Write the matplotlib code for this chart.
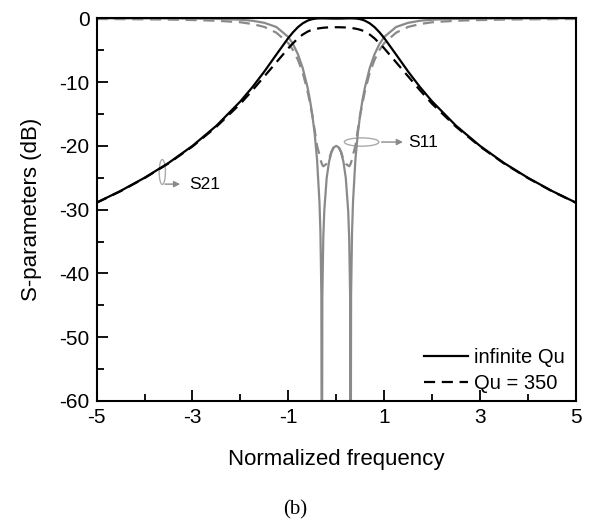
import matplotlib
matplotlib.use("Agg")
import matplotlib.pyplot as plt
from matplotlib.patches import Ellipse
from matplotlib.ticker import MultipleLocator

plt.rcParams['font.family'] = ['Liberation Sans', 'DejaVu Sans']
plt.rcParams['axes.unicode_minus'] = False

# frecuencia normalizada
freq = [-5, -4.5, -4, -3.5, -3, -2.5, -2, -1.75, -1.5, -1.25, -1, -0.9, -0.8, -0.7,
        -0.6, -0.55, -0.5, -0.45, -0.4, -0.35, -0.33, -0.31, -0.3, -0.29, -0.27,
        -0.25, -0.2, -0.15, -0.1, -0.05, 0, 0.05, 0.1, 0.15, 0.2, 0.25, 0.27, 0.29,
        0.3, 0.31, 0.33, 0.35, 0.4, 0.45, 0.5, 0.55, 0.6, 0.7, 0.8, 0.9, 1, 1.25,
        1.5, 1.75, 2, 2.5, 3, 3.5, 4, 4.5, 5]

# Qu infinito
s21_inf = [-28.89, -27.06, -25.0, -22.68, -20.0, -16.84, -13.02, -10.8, -8.34, -5.69,
           -3.08, -2.17, -1.39, -0.79, -0.378, -0.238, -0.136, -0.068, -0.026, -0.006,
           -0.002, 0.0, 0.0, 0.0, -0.002, -0.004, -0.014, -0.025, -0.035, -0.041, -0.044,
           -0.041, -0.035, -0.025, -0.014, -0.004, -0.002, 0.0, 0.0, 0.0, -0.002, -0.006,
           -0.026, -0.068, -0.136, -0.238, -0.378, -0.79, -1.39, -2.17, -3.08, -5.69,
           -8.34, -10.8, -13.02, -16.84, -20.0, -22.68, -25.0, -27.06, -28.89]
s11_inf = [-0.006, -0.009, -0.014, -0.023, -0.044, -0.09, -0.22, -0.38, -0.71, -1.36,
           -2.93, -4.06, -5.63, -7.79, -10.79, -12.73, -15.09, -18.09, -22.17, -28.81,
           -33.52, -43.35, -90.0, -43.6, -34.38, -30.25, -25.07, -22.48, -21.0, -20.24,
           -20.0, -20.24, -21.0, -22.48, -25.07, -30.25, -34.38, -43.6, -90.0, -43.35,
           -33.52, -28.81, -22.17, -18.09, -15.09, -12.73, -10.79, -7.79, -5.63, -4.06,
           -2.93, -1.36, -0.71, -0.38, -0.22, -0.09, -0.044, -0.023, -0.014, -0.009, -0.006]

# Qu = 350
s21_q = [-28.92, -27.1, -25.05, -22.75, -20.1, -17.0, -13.4, -11.3, -9.1, -6.9,
         -4.7, -3.9, -3.15, -2.55, -2.1, -1.93, -1.8, -1.7, -1.62, -1.56, -1.54, -1.52,
         -1.51, -1.5, -1.48, -1.47, -1.44, -1.42, -1.41, -1.4, -1.4, -1.4, -1.41, -1.42,
         -1.44, -1.47, -1.48, -1.5, -1.51, -1.52, -1.54, -1.56, -1.62, -1.7, -1.8, -1.93,
         -2.1, -2.55, -3.15, -3.9, -4.7, -6.9, -9.1, -11.3, -13.4, -17.0, -20.1, -22.75,
         -25.05, -27.1, -28.92]
s11_q = [-0.11, -0.13, -0.16, -0.2, -0.27, -0.38, -0.62, -0.9, -1.35, -2.25,
         -3.9, -5.0, -6.5, -8.5, -11.4, -13.2, -15.2, -17.5, -20.0, -21.4, -22.1, -22.6,
         -22.8, -23.0, -23.2, -23.1, -22.8, -22.1, -20.9, -20.15, -19.9, -20.15, -20.9,
         -22.1, -22.8, -23.1, -23.2, -23.0, -22.8, -22.6, -22.1, -21.4, -20.0, -17.5,
         -15.2, -13.2, -11.4, -8.5, -6.5, -5.0, -3.9, -2.25, -1.35, -0.9, -0.62, -0.38,
         -0.27, -0.2, -0.16, -0.13, -0.11]

gris = '#8a8a8a'

fig = plt.figure(figsize=(5.93, 5.23), dpi=100)
ax = fig.add_axes([0.163, 0.2333, 0.808, 0.7317])

ax.plot(freq, s11_inf, color=gris, lw=1.6)
ax.plot(freq, s11_q, color=gris, lw=1.6, dashes=(5, 3))
ax.plot(freq, s21_inf, color='black', lw=1.6, label='infinite Qu')
ax.plot(freq, s21_q, color='black', lw=1.6, dashes=(5, 3), label='Qu = 350')

# anotaciones S21 / S11
ax.add_patch(Ellipse((-3.63, -24.1), 0.13, 3.9, fill=False, ec='#aaaaaa', lw=1))
ax.annotate('', xy=(-3.2, -26.0), xytext=(-3.63, -26.0),
            arrowprops=dict(arrowstyle='-|>', color=gris, lw=1, mutation_scale=9))
ax.text(-3.07, -26.0, 'S21', fontsize=12.5, va='center', ha='left')

ax.add_patch(Ellipse((0.53, -19.4), 0.72, 1.3, fill=False, ec='#aaaaaa', lw=1))
ax.annotate('', xy=(1.45, -19.4), xytext=(0.89, -19.4),
            arrowprops=dict(arrowstyle='-|>', color=gris, lw=1, mutation_scale=9))
ax.text(1.5, -19.4, 'S11', fontsize=12.5, va='center', ha='left')

ax.set_xlim(-5, 5)
ax.set_ylim(-60, 0)
ax.xaxis.set_major_locator(MultipleLocator(2))
ax.xaxis.set_minor_locator(MultipleLocator(1))
ax.yaxis.set_major_locator(MultipleLocator(10))
ax.yaxis.set_minor_locator(MultipleLocator(5))
ax.set_xticks([-5, -3, -1, 1, 3, 5])
ax.tick_params(which='both', direction='in', top=False, right=False, width=1.3)
ax.tick_params(which='major', length=8, labelsize=15, pad=5)
ax.tick_params(which='minor', length=5)
for s in ax.spines.values():
    s.set_linewidth(1.5)

ax.set_xlabel('Normalized frequency', fontsize=16)
ax.xaxis.set_label_coords(0.5, -0.125)
ax.set_ylabel('S-parameters (dB)', fontsize=16)
ax.yaxis.set_label_coords(-0.135, 0.5)
ax.yaxis.label.set_va('center')

ax.legend(loc='lower right', bbox_to_anchor=(0.994, 0.0), frameon=False, fontsize=14.5,
          handlelength=2.2, handletextpad=0.3, labelspacing=0.33, borderaxespad=0.0)

fig.text(0.497, 0.025, '(b)', fontsize=15, family='Liberation Serif', ha='center', va='center')

fig.savefig('out.png', dpi=100)
